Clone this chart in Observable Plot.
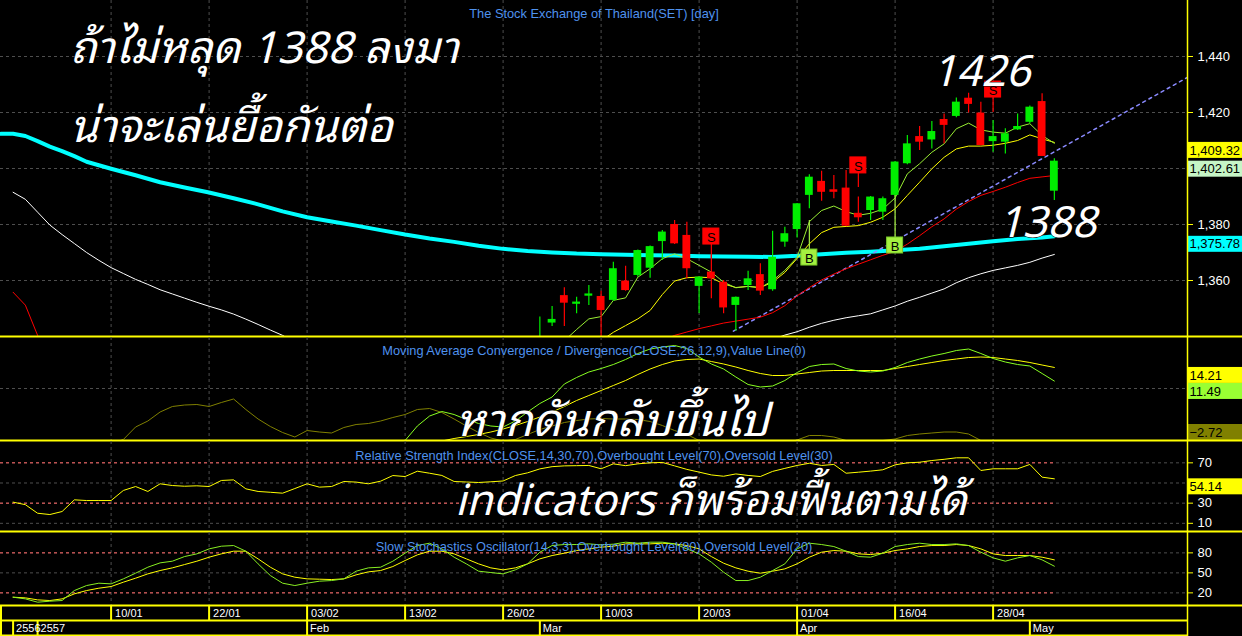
<!DOCTYPE html>
<html>
<head>
<meta charset="utf-8">
<script src="https://cdn.jsdelivr.net/npm/d3@7"></script>
<script src="https://cdn.jsdelivr.net/npm/@observablehq/plot@0.6"></script>
<style>
html,body{margin:0;padding:0;background:#000;}
#chart{position:relative;width:1242px;height:636px;background:#000;overflow:hidden;}
#chart > svg{display:block;}
#notes{position:absolute;left:0;top:0;pointer-events:none;}
</style>
</head>
<body>
<div id="chart"></div>
<script>
// ================= DATA =================
const mainTitle = "The Stock Exchange of Thailand(SET) [day]";
const macdTitle = "Moving Average Convergence / Divergence(CLOSE,26,12,9),Value Line(0)";
const rsiTitle = "Relative Strength Index(CLOSE,14,30,70),Overbought Level(70),Oversold Level(30)";
const stochTitle = "Slow Stochastics Oscillator(14,3,3),Overbought Level(80),Oversold Level(20)";

const dateTickIdx = [8,16,24,32,40,48,56,64,72,80];
const dateTickLabels = ["10/01","22/01","03/02","13/02","26/02","10/03","20/03","01/04","16/04","28/04"];
const periodIdx = [0,2,24,43,64,83];
const periodLabels = ["2556","2557","Feb","Mar","Apr","May"];
const priceGrid = [1360,1380,1400,1420,1440];
const priceTicks = [1360,1380,1420,1440];
const rsiGrid = [70,50,30,10];
const rsiTicks = [70,30,10];
const stochTicks = [80,50,20];

// candles (bar index 0 = 27/12/2556)
const candleIdx = [43,44,45,46,47,48,49,50,51,52,53,54,55,56,57,58,59,60,61,62,63,64,65,66,67,68,69,70,71,72,73,74,75,76,77,78,79,80,81,82,83,84,85];
const candleOpen = [1336.5,1344.8,1354.6,1351.5,1354.4,1354.3,1352.9,1359.8,1361.8,1364.4,1373.9,1380.0,1376.1,1357.9,1363.0,1359.4,1351.1,1358.2,1362.1,1356.7,1373.7,1378.2,1390.4,1395.4,1392.4,1393.0,1384.0,1385.0,1384.4,1390.4,1401.7,1411.4,1410.2,1417.5,1418.6,1425.1,1419.8,1409.6,1409.4,1413.8,1416.5,1423.9,1391.9];
const candleHigh = [1347.0,1350.7,1357.4,1354.0,1358.2,1356.2,1366.5,1365.1,1370.9,1372.3,1377.9,1381.4,1380.8,1361.3,1368.9,1360.0,1354.1,1363.3,1366.0,1377.6,1379.0,1387.5,1397.8,1399.0,1397.5,1399.3,1389.8,1390.0,1389.8,1402.5,1411.8,1415.0,1416.8,1419.5,1425.2,1426.9,1423.7,1417.1,1414.2,1419.5,1422.3,1426.7,1403.5];
const candleLow = [1333.0,1343.6,1343.6,1348.1,1351.1,1338.0,1352.5,1356.2,1361.2,1360.8,1367.1,1372.9,1360.6,1348.2,1353.5,1348.1,1341.9,1356.4,1354.6,1356.2,1371.9,1375.2,1385.6,1388.3,1389.2,1379.2,1380.8,1381.4,1381.4,1389.6,1401.3,1406.4,1407.0,1408.8,1418.1,1419.8,1408.0,1405.8,1405.2,1413.6,1416.0,1404.3,1388.6];
const candleClose = [1339.5,1346.1,1351.9,1352.3,1355.2,1349.3,1364.2,1356.4,1370.7,1372.1,1377.3,1373.1,1364.2,1361.2,1360.6,1350.2,1354.0,1360.6,1356.2,1368.3,1376.7,1387.4,1396.9,1391.5,1391.5,1379.4,1382.4,1389.8,1389.2,1402.3,1408.8,1409.4,1413.2,1415.4,1423.7,1422.9,1408.2,1411.4,1412.4,1415.0,1421.9,1404.3,1402.61];

// moving averages on price
const maFastStart = 45;
const maFast = [1338.5,1342.5,1346.3,1347.1,1352.9,1353.8,1361.2,1364.2,1367.8,1369.5,1367.8,1365.4,1363.0,1359.4,1357.4,1357.9,1357.4,1360.0,1363.6,1368.3,1381.0,1385.0,1386.6,1384.6,1383.3,1384.0,1385.5,1389.5,1398.1,1401.7,1405.8,1408.8,1414.2,1416.2,1413.8,1413.0,1412.6,1414.8,1416.0,1411.8,1409.0];
const maMidStart = 48;
const maMid = [1338.5,1341.5,1343.9,1346.3,1349.3,1355.0,1359.8,1361.0,1361.2,1361.0,1358.8,1357.5,1357.9,1357.5,1359.4,1362.9,1367.9,1373.1,1377.1,1379.0,1379.3,1379.6,1380.8,1382.6,1385.6,1390.4,1395.1,1399.9,1404.0,1407.0,1408.0,1408.0,1408.3,1409.0,1410.0,1412.0,1410.6,1409.32];
const maRedAStart = 0;
const maRedA = [1355.8,1351.2,1340.4,1332.0];
const maRedBStart = 53;
const maRedB = [1338.5,1340.4,1341.6,1342.8,1343.8,1344.8,1345.5,1346.2,1346.9,1348.5,1351.0,1354.5,1357.5,1360.2,1362.3,1364.2,1365.8,1367.4,1369.0,1370.4,1373.0,1376.0,1379.2,1382.0,1385.5,1388.2,1390.4,1391.8,1393.3,1395.0,1396.5,1397.0,1397.5];
const maWhiteAStart = 0;
const maWhiteA = [1391.5,1389.0,1384.4,1379.8,1376.4,1373.2,1370.0,1367.2,1364.6,1362.5,1360.4,1358.6,1356.7,1355.2,1353.7,1352.2,1350.8,1349.5,1348.0,1346.2,1344.3,1342.3,1340.4,1338.0];
const maWhiteBStart = 62;
const maWhiteB = [1339.0,1340.5,1341.7,1343.3,1344.7,1345.8,1346.7,1347.4,1348.1,1349.5,1350.9,1352.6,1354.0,1355.5,1357.0,1359.2,1361.0,1362.4,1363.6,1364.5,1365.4,1366.5,1368.0,1369.3];
const maCyanIdx = [-1,0,1,2,3,4,5,6,8,10,12,14,16,18,20,22,24,26,28,30,32,34,36,38,40,42,44,46,48,50,52,54,56,58,60,62,64,66,68,70,72,74,76,78,80,82,84,85];
const maCyan = [1412.4,1412.4,1411.6,1409.8,1407.8,1406.2,1404.4,1402.4,1399.9,1397.6,1395.1,1393.2,1391.4,1389.4,1387.2,1384.7,1382.6,1381.1,1379.6,1378.0,1376.4,1375.0,1373.8,1372.4,1371.3,1370.5,1370.0,1369.6,1369.4,1369.2,1369.0,1368.9,1368.7,1368.6,1368.5,1368.4,1368.8,1369.4,1369.9,1370.3,1370.8,1371.3,1372.2,1373.1,1374.0,1374.8,1375.4,1375.78];
const trendIdx = [58.8, 95.9];
const trendPrice = [1341.9, 1432.6];

// buy / sell signals
const signalIdx = [57,65,69,72,80];
const signalType = ["S","B","S","B","S"];
const signalPrice = [1375.7,1368.2,1401.1,1372.5,1428.2];
const signalStemEnd = [1367.9,1381.4,1393.2,1390.4,1420.0];

// last-value labels
const priceLabelValues = [1409.32, 1402.61, 1375.78];
const macdLabelValues = [14.21, 11.49, -2.72];
const rsiLabelValues = [54.14];

// MACD
const macdStart = 31;
const macdLine = [-1.0,-0.4,2.5,4.5,5.4,4.8,3.8,3.0,2.5,2.3,3.5,5.3,7.0,8.3,10.9,12.2,13.3,14.0,14.8,15.8,17.0,17.9,18.3,18.6,18.0,16.3,14.9,13.9,12.3,10.8,10.3,10.5,11.6,13.2,14.4,14.8,14.9,14.0,13.5,13.3,13.5,14.2,15.2,15.9,16.5,17.0,17.6,17.9,17.0,16.0,15.3,14.8,14.5,13.0,11.49];
const signalStart = 35;
const signalLine = [-0.5,0.0,0.4,0.8,1.3,1.9,2.6,3.4,4.3,5.3,6.4,7.6,8.6,9.6,10.6,11.6,12.8,13.9,14.8,15.5,15.8,15.9,15.4,14.9,14.3,13.6,13.0,12.6,12.6,12.9,13.2,13.5,13.6,13.6,13.6,13.6,13.6,14.0,14.4,14.8,15.2,15.6,15.9,16.2,16.3,16.2,15.9,15.6,15.2,14.7,14.21];
const histStart = 8;
const histLine = [-1.0,-0.2,2.3,3.5,5.3,6.4,6.7,6.8,6.4,7.2,7.9,5.8,3.9,2.4,1.2,0.3,1.6,1.3,1.1,2.2,2.8,3.0,3.5,4.2,4.8,5.8,6.0,5.2,3.9,2.5,1.2,0.1,-0.5,-0.2,0.8,1.8,2.5,3.2,3.6,3.9,4.0,3.9,3.9,3.8,3.4,2.6,1.6,0.8,-0.4,-1.0,-1.6,-2.0,-2.6,-2.7,-2.1,-0.9,-0.3,0.6,0.6,0.3,-0.4,-0.8,-0.6,-0.4,-0.1,0.6,0.9,1.1,1.3,1.3,0.9,-0.4,-0.9,-1.2,-1.5,-1.4,-2.0,-2.72];

// RSI (from bar 0)
const rsiLine = [31.0,28.5,20.0,18.7,21.7,33.3,32.6,32.6,32.6,42.6,46.5,41.6,49.2,47.5,46.8,47.2,46.5,52.5,53.1,44.2,41.6,40.8,39.9,44.5,49.2,45.9,46.5,51.5,50.9,49.2,51.8,57.4,56.4,61.7,59.7,57.5,51.5,51.0,50.5,51.2,52.0,57.4,60.1,64.0,66.2,67.0,67.2,67.4,64.1,69.0,67.2,69.0,70.0,70.4,67.0,63.5,60.8,58.0,56.7,59.0,57.5,56.4,61.5,64.5,67.4,69.6,67.4,68.4,59.7,60.7,61.8,63.1,68.0,70.0,70.6,72.3,73.5,75.0,75.0,62.4,64.1,64.1,64.1,68.4,55.8,54.14];

// Slow stochastics (from bar 0)
const stochK = [13.5,11,6,7.5,8.5,23.5,31,34.5,33.5,41,49.5,58.5,65,67.5,74.5,78.5,86,90,91,82.5,63.5,46,34.5,31,34.5,37.5,38.5,41,52.5,57.5,58.5,67.5,79.5,91,94.5,86,73.5,63.5,52.5,50.5,48.5,54.5,63.5,81,91,92.5,92.5,93.5,92,93,96,94.5,96,96,93.5,86,78.5,66,51,38.5,38.5,43.5,53.5,63.5,86,94.5,92.5,89.5,82.5,74.5,73.5,79.5,89.5,92.5,94.5,92.5,92.5,93.5,91,81,72.5,67.5,72.5,76,69.5,60];
const stochD = [13.5,12.5,9.5,8.5,11,18.5,23.5,27,29.5,36,42,48.5,53.5,57.5,62.5,67.5,73.5,78.5,82.5,82.5,71,58.5,48.5,43.5,41,40.5,40,41,47,51.5,53.5,59.5,68.5,77,82.5,82.5,78.5,71,63.5,57.5,54.5,57.5,63.5,71,76,79.5,83.5,86,88.5,90,93.5,93.5,93.5,94.5,93.5,91,86,74.5,64.5,57.5,52.5,49.5,52.5,56,63.5,73.5,81,83.5,82.5,78.5,77.5,79.5,83.5,86,89.5,91,91,92.5,91,86,78.5,76,76,76,73.5,69.5];
const rsiLevels = [70,30];
const stochLevels = [80,20];

// overlay annotations (text only; layout below)
const annotationTexts = ["ถ้าไม่หลุด 1388 ลงมา","น่าจะเล่นยื้อกันต่อ","1426","1388","หากดันกลับขึ้นไป","indicators ก็พร้อมฟื้นตามได้"];

// ================= LAYOUT / STYLE =================
const W = 1242, PLOT_R = 1187, BAR0 = 12.6, BARW = 12.25;
const X_LO = (0 - BAR0) / BARW, X_HI = (PLOT_R - BAR0) / BARW, X_FULL = (W - BAR0) / BARW;
const YEL = "#ffff00", TITLE = "#4f92ee", GREEN = "#00ee00", RED = "#ff0000", LIME = "#99ee33";
const GRID = {stroke: "#4e4e4e", strokeDasharray: "3,3", strokeWidth: 1};
const FONT = "'Liberation Sans', Arial, sans-serif";
const TITLE_SIZE = 12.8;
const annotationLayout = [
  {x: 70, y: 63, size: 44},
  {x: 70, y: 142, size: 45},
  {x: 932, y: 86, size: 43},
  {x: 998, y: 237, size: 43},
  {x: 456, y: 436, size: 45},
  {x: 455, y: 515, size: 43}
];

const rows = (start, vals) => vals.map((v, k) => ({i: start + k, v}));
const zipRows = (idx, vals) => idx.map((i, k) => ({i, v: vals[k]}));

function stackLabels(values, texts, colors, dom, frameH, boxH = 16) {
  const [lo, hi] = dom, ppu = frameH / (hi - lo);
  const r = values.map((v, k) => ({v, text: texts[k], bg: colors[k], top: (hi - v) * ppu}))
    .sort((a, b) => a.top - b.top);
  let prev = -Infinity;
  for (const d of r) { d.top = Math.min(Math.max(d.top, prev), frameH - boxH); prev = d.top + boxH; }
  return r.map(d => ({...d, y1: hi - d.top / ppu, y2: hi - (d.top + boxH) / ppu, ym: hi - (d.top + boxH / 2) / ppu}));
}
function valueLabelMarks(labels) {
  return [
    Plot.rect(labels, {x1: X_HI, x2: X_FULL, y1: "y1", y2: "y2", fill: "bg"}),
    Plot.text(labels, {x: X_HI, y: "ym", text: "text", textAnchor: "start", dx: 2, fill: "#000", fontSize: 13})
  ];
}
function borderMarks(yBottom) {
  return [
    Plot.ruleX([X_HI], {stroke: YEL, strokeWidth: 1.5}),
    Plot.ruleY([yBottom], {x1: X_LO, x2: X_FULL, stroke: YEL, strokeWidth: 2})
  ];
}
function panel(height, yDomain, marks) {
  return Plot.plot({
    width: W, height, marginLeft: 0, marginRight: W - PLOT_R, marginTop: 0, marginBottom: 1,
    x: {domain: [X_LO, X_HI], axis: null},
    y: {domain: yDomain, axis: null},
    color: {type: "identity"},
    style: {background: "#000", color: "#fff", fontFamily: FONT, fontSize: "12px", overflow: "visible"},
    marks
  });
}
const rightAxis = (ticks, fmt) => Plot.axisY({ticks, anchor: "right", tickFormat: fmt, tickSize: 5, tickPadding: 5,
  stroke: YEL, fill: "#ffffff", fontSize: 13, label: null});

// ================= MAIN PANEL =================
const candles = candleIdx.map((i, k) => ({i, open: candleOpen[k], high: candleHigh[k], low: candleLow[k], close: candleClose[k]}));
const cColor = d => d.close >= d.open ? GREEN : RED;
const signals = signalIdx.map((i, k) => ({i, type: signalType[k], v: signalPrice[k], stem: signalStemEnd[k]}));
const sigColor = d => d.type === "S" ? RED : "#a4f040";
const mainDom = [1340, 1460];
const fmtComma = d3.format(",");
const mainLabels = stackLabels(priceLabelValues, priceLabelValues.map(d3.format(",.2f")), [YEL, "#c6f5c6", "#00ffff"], mainDom, 336);

const mainPlot = panel(337, mainDom, [
  Plot.ruleY(priceGrid, GRID),
  Plot.ruleX(dateTickIdx, GRID),
  Plot.text([mainTitle], {frameAnchor: "top", dy: 8, fill: TITLE, fontSize: TITLE_SIZE}),
  Plot.line(zipRows(maCyanIdx, maCyan), {x: "i", y: "v", stroke: "#00ffff", strokeWidth: 4, clip: true}),
  Plot.line(rows(maWhiteAStart, maWhiteA), {x: "i", y: "v", stroke: "#ffffff", strokeWidth: 1, clip: true}),
  Plot.line(rows(maWhiteBStart, maWhiteB), {x: "i", y: "v", stroke: "#ffffff", strokeWidth: 1, clip: true}),
  Plot.line(zipRows(trendIdx, trendPrice), {x: "i", y: "v", stroke: "#8a8aff", strokeWidth: 1.5, strokeDasharray: "3,4", clip: true}),
  Plot.line(rows(maRedAStart, maRedA), {x: "i", y: "v", stroke: RED, strokeWidth: 1, clip: true}),
  Plot.line(rows(maRedBStart, maRedB), {x: "i", y: "v", stroke: RED, strokeWidth: 1, clip: true}),
  Plot.line(rows(maMidStart, maMid), {x: "i", y: "v", stroke: YEL, strokeWidth: 1, clip: true}),
  Plot.line(rows(maFastStart, maFast), {x: "i", y: "v", stroke: LIME, strokeWidth: 1, clip: true}),
  Plot.ruleX(candles, {x: "i", y1: "low", y2: "high", stroke: cColor, strokeWidth: 1.2, clip: true}),
  Plot.rect(candles, {x1: d => d.i - 0.32, x2: d => d.i + 0.32, y1: "open", y2: "close", fill: cColor, clip: true}),
  Plot.ruleX(signals, {x: "i", y1: "v", y2: "stem", stroke: sigColor, strokeWidth: 1.2}),
  Plot.rect(signals, {x1: "i", x2: "i", y1: "v", y2: "v", insetLeft: -8, insetRight: -8, insetTop: -8, insetBottom: -8,
    fill: sigColor, stroke: d => d.type === "S" ? RED : "#78c828", strokeWidth: 1}),
  Plot.text(signals, {x: "i", y: "v", text: "type", fill: "#000", fontSize: 13, dy: 1}),
  rightAxis(priceTicks, fmtComma),
  ...valueLabelMarks(mainLabels),
  ...borderMarks(mainDom[0])
]);

// ================= MACD PANEL =================
const macdDom = [-0.4, 20.2];
const macdLabels = stackLabels(macdLabelValues, macdLabelValues.map(d3.format(".2f")), [YEL, "#99ff33", "#808000"], macdDom, 103);
const macdPlot = panel(104, macdDom, [
  Plot.ruleY([10], GRID),
  Plot.ruleX(dateTickIdx, GRID),
  Plot.line(rows(histStart, histLine), {x: "i", y: "v", stroke: "#808000", strokeWidth: 1, clip: true}),
  Plot.line(rows(signalStart, signalLine), {x: "i", y: "v", stroke: YEL, strokeWidth: 1, clip: true}),
  Plot.line(rows(macdStart, macdLine), {x: "i", y: "v", stroke: "#88ff22", strokeWidth: 1, clip: true}),
  Plot.text([macdTitle], {frameAnchor: "top", dy: 8, fill: TITLE, fontSize: TITLE_SIZE}),
  ...valueLabelMarks(macdLabels),
  ...borderMarks(macdDom[0])
]);

// ================= RSI PANEL =================
const rsiDom = [1.88, 91.17];
const rsiLabels = stackLabels(rsiLabelValues, rsiLabelValues.map(d3.format(".2f")), [YEL], rsiDom, 90);
const rsiPlot = panel(91, rsiDom, [
  Plot.ruleY(rsiGrid, GRID),
  Plot.ruleX(dateTickIdx, GRID),
  Plot.ruleY(rsiLevels, {x1: X_LO, x2: rsiLine.length - 1, stroke: "#ff6060", strokeDasharray: "3,3", strokeWidth: 1}),
  Plot.text([rsiTitle], {frameAnchor: "top", dy: 9, fill: TITLE, fontSize: TITLE_SIZE}),
  Plot.line(rows(0, rsiLine), {x: "i", y: "v", stroke: YEL, strokeWidth: 1, clip: true}),
  rightAxis(rsiTicks, d => d),
  ...valueLabelMarks(rsiLabels),
  ...borderMarks(rsiDom[0])
]);

// ================= STOCHASTIC PANEL =================
const stochDom = [1.05, 110.55];
const stochPlot = panel(74, stochDom, [
  Plot.ruleY(stochTicks, GRID),
  Plot.ruleX(dateTickIdx, GRID),
  Plot.ruleY(stochLevels, {x1: X_LO, x2: stochK.length - 1, stroke: "#ff6060", strokeDasharray: "3,3", strokeWidth: 1}),
  Plot.line(rows(0, stochD), {x: "i", y: "v", stroke: YEL, strokeWidth: 1, clip: true}),
  Plot.line(rows(0, stochK), {x: "i", y: "v", stroke: "#88ee22", strokeWidth: 1, clip: true}),
  Plot.text([stochTitle], {frameAnchor: "top", dy: 9, fill: TITLE, fontSize: TITLE_SIZE}),
  rightAxis(stochTicks, d => d),
  ...borderMarks(stochDom[0])
]);

// ================= DATE AXIS =================
const axisPlot = Plot.plot({
  width: W, height: 30, marginLeft: 0, marginRight: W - PLOT_R, marginTop: 0, marginBottom: 0,
  x: {domain: [X_LO, X_HI], axis: null},
  y: {domain: [0, 30], range: [0, 30], axis: null},
  style: {background: "#000", color: "#fff", fontFamily: FONT, overflow: "visible"},
  marks: [
    Plot.ruleY([14, 29], {x1: X_LO, x2: X_HI, stroke: YEL, strokeWidth: 2}),
    Plot.ruleX(dateTickIdx, {y1: 0, y2: 14, stroke: YEL, strokeWidth: 2}),
    Plot.ruleX(periodIdx, {y1: 14, y2: 29, stroke: YEL, strokeWidth: 2}),
    Plot.ruleX([X_LO], {y1: 0, y2: 29, stroke: YEL, strokeWidth: 3}),
    Plot.ruleX([X_HI], {y1: 0, y2: 30, stroke: YEL, strokeWidth: 1.5}),
    Plot.text(dateTickLabels, {x: (d, k) => dateTickIdx[k], y: 7, text: d => d, textAnchor: "start", dx: 4, fill: "#fff", fontSize: 11}),
    Plot.text(periodLabels, {x: (d, k) => periodIdx[k], y: 22, text: d => d, textAnchor: "start", dx: 3, fill: "#fff", fontSize: 11})
  ]
});

const root = document.getElementById("chart");
[mainPlot, macdPlot, rsiPlot, stochPlot, axisPlot].forEach(p => root.appendChild(p));

// ================= OVERLAY ANNOTATIONS =================
const notes = d3.select(root).append("svg").attr("id", "notes").attr("width", W).attr("height", 636);
notes.selectAll("text").data(annotationTexts).join("text")
  .attr("x", (d, k) => annotationLayout[k].x)
  .attr("y", (d, k) => annotationLayout[k].y)
  .attr("font-size", (d, k) => annotationLayout[k].size)
  .attr("font-style", "italic")
  .attr("font-family", "'Noto Sans Thai Looped', 'Noto Sans Thai', 'Noto Sans Thai UI', Tahoma, Loma, Garuda, 'DejaVu Sans', sans-serif")
  .attr("fill", "#ffffff")
  .attr("stroke", "#000")
  .attr("stroke-width", 1)
  .attr("paint-order", "stroke")
  .text(d => d);
</script>
</body>
</html>
